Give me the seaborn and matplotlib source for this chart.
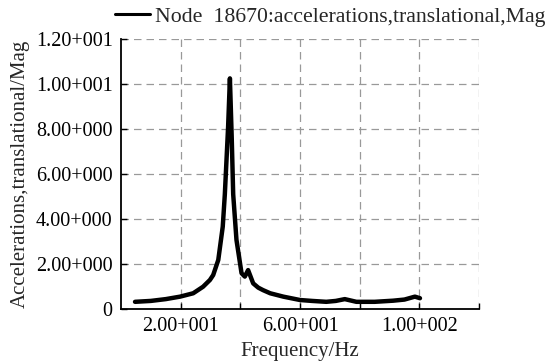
import matplotlib
matplotlib.use("Agg")
import matplotlib.pyplot as plt
import seaborn as sns
import pandas as pd

# --------------------------------------------------
# DATA
# --------------------------------------------------

freq = [4.7, 10.0, 15.0, 19.8, 24.2, 27.5, 29.8, 30.9, 32.6, 34.1, 34.8,
        35.9, 36.5, 37.1, 37.6, 38.7, 40.4, 41.5, 42.6, 44.3, 46.0, 47.6,
        50.0, 54.4, 60.0, 64.0, 68.8, 72.0, 75.0, 78.9, 85.0, 91.2, 95.0,
        98.5, 100.2]
accel = [0.32, 0.36, 0.44, 0.55, 0.70, 0.99, 1.29, 1.51, 2.18, 3.66, 5.10,
         8.10, 10.25, 7.66, 5.10, 3.07, 1.59, 1.44, 1.73, 1.14, 0.95, 0.84,
         0.70, 0.55, 0.40, 0.36, 0.32, 0.36, 0.44, 0.32, 0.32, 0.37, 0.42,
         0.55, 0.48]

x_ticks = [20, 40, 60, 80, 100, 120]
x_labels = ["2.00+001", "", "6.00+001", "", "1.00+002", ""]
y_ticks = [0, 2, 4, 6, 8, 10, 12]
y_labels = ["0", "2.00+000", "4.00+000", "6.00+000", "8.00+000",
            "1.00+001", "1.20+001"]

legend_label = "Node  18670:accelerations,translational,Mag"

df = pd.DataFrame({"freq": freq, "accel": accel})

# --------------------------------------------------
# STYLE
# --------------------------------------------------

sns.set_style("white")
plt.rcParams["font.family"] = ["Liberation Serif", "DejaVu Serif"]

fig = plt.figure(figsize=(5.5, 3.61), dpi=100)
ax = fig.add_axes([0.22, 0.144, 0.651, 0.748])

sns.lineplot(data=df, x="freq", y="accel", ax=ax, color="black",
             linewidth=3.2, label=legend_label)

ax.set_xlim(0, 120)
ax.set_ylim(0, 12)
ax.set_xticks(x_ticks)
ax.set_xticklabels(x_labels)
ax.set_yticks(y_ticks)
ax.set_yticklabels(y_labels)

ax.grid(True, color="#999999", linestyle=(0, (6, 4)), linewidth=0.9)
for side in ["top", "right"]:
    ax.spines[side].set_visible(False)
for side in ["left", "bottom"]:
    ax.spines[side].set_color("black")
    ax.spines[side].set_linewidth(1.3)

ax.tick_params(direction="in", length=4, width=1.0, colors="black",
               labelsize=14.5, left=True, bottom=True, pad=6)

ax.set_xlabel("Frequency/Hz", fontsize=15, labelpad=4)
ax.set_ylabel("Accelerations,translational/Mag", fontsize=15, labelpad=4)

leg = ax.legend(loc="center right", bbox_to_anchor=(1.186, 1.083),
                frameon=False, fontsize=15.7, handlelength=1.6,
                handletextpad=0.23, borderaxespad=0, borderpad=0)
for line in leg.get_lines():
    line.set_linewidth(2.2)

fig.savefig("out.png", dpi=100)
